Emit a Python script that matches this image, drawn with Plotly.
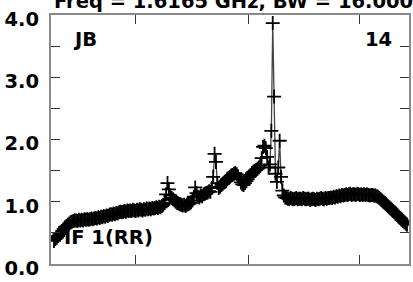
import plotly.graph_objects as go

# Spectrum amplitude per channel (256 channels)
amp_a = [0.37, 0.40, 0.42, 0.45, 0.48, 0.50, 0.53, 0.56, 0.59, 0.61,
         0.63, 0.65, 0.67, 0.68, 0.69, 0.70, 0.70, 0.69, 0.71, 0.70,
         0.71, 0.70, 0.72, 0.71, 0.72, 0.71, 0.72, 0.73, 0.72, 0.73,
         0.74, 0.73, 0.75, 0.74, 0.76, 0.75, 0.77, 0.76, 0.78, 0.77,
         0.79, 0.80, 0.79, 0.81, 0.80, 0.82, 0.81, 0.83, 0.84, 0.83,
         0.84, 0.85, 0.84, 0.86, 0.85, 0.86, 0.85, 0.87, 0.86, 0.85,
         0.87, 0.86, 0.88, 0.87, 0.86, 0.88, 0.87, 0.89, 0.88, 0.89,
         0.88, 0.90, 0.89, 0.90, 0.91, 0.90, 0.92, 0.91, 0.93, 0.95]
amp_b = [0.98, 1.12, 1.30, 1.20, 1.10, 1.06, 1.04, 1.02, 1.00, 0.98,
         0.97, 0.96, 0.95, 0.94, 0.95, 0.93, 0.95, 0.96, 0.97, 0.99,
         1.02, 1.08, 1.23, 1.14, 1.08, 1.07, 1.10, 1.09, 1.12, 1.13,
         1.14, 1.15, 1.17, 1.16, 1.22, 1.40, 1.77, 1.64, 1.30, 1.22,
         1.24, 1.27, 1.29, 1.31, 1.33, 1.36, 1.38, 1.40, 1.42, 1.43,
         1.45, 1.46, 1.44, 1.41, 1.36, 1.31, 1.28, 1.27, 1.30, 1.33,
         1.36, 1.40, 1.43, 1.46, 1.48, 1.50, 1.51, 1.53, 1.55, 1.58,
         1.70, 1.88, 1.90, 1.86, 1.72, 1.55, 1.60, 2.14, 3.87, 2.69,
         1.45, 1.32, 1.55, 1.98, 1.40, 1.18, 1.10, 1.07, 1.06]
amp_c = [1.05, 1.04, 1.06, 1.05, 1.04, 1.05, 1.06, 1.04, 1.05, 1.05,
         1.04, 1.06, 1.05, 1.04, 1.05, 1.05, 1.03, 1.04, 1.05, 1.04,
         1.03, 1.05, 1.04, 1.05, 1.06, 1.05, 1.04, 1.06, 1.05, 1.06,
         1.06, 1.07, 1.06, 1.08, 1.07, 1.09, 1.08, 1.10, 1.09, 1.11,
         1.10,
         1.11, 1.12, 1.11, 1.12, 1.13, 1.11, 1.12, 1.12, 1.11, 1.13,
         1.12, 1.11, 1.12, 1.11, 1.12, 1.11, 1.12, 1.11, 1.10, 1.11,
         1.11, 1.10,
         1.10, 1.09, 1.08, 1.06, 1.04, 1.02, 1.00, 0.98, 0.96, 0.93,
         0.91, 0.89, 0.87, 0.85, 0.83, 0.81, 0.79, 0.76, 0.74, 0.71,
         0.69, 0.67, 0.65, 0.63]
amplitude = amp_a + amp_b + amp_c
channels = list(range(len(amplitude)))

y_tickvals = [0.0, 0.5, 1.0, 1.5, 2.0, 2.5, 3.0, 3.5, 4.0]
y_ticktext = ["0.0", "", "1.0", "", "2.0", "", "3.0", "", "4.0"]
x_tickvals = [58.7, 140.4, 220.6]

title_text = "Freq = 1.6165 GHz, BW = 16.000 MHz"
label_tl = "JB"
label_tr = "14"
label_bl = "IF 1(RR)"

FONT = "DejaVu Sans"
FS = 19.5

fig = go.Figure()
fig.add_trace(go.Scatter(
    x=channels, y=amplitude, mode="lines+markers",
    line=dict(color="#444444", width=1.3),
    marker=dict(symbol="cross-thin", size=10, line=dict(color="black", width=1.8)),
    cliponaxis=True, showlegend=False, hoverinfo="skip",
))

axis_common = dict(showgrid=False, zeroline=False, showline=True, linecolor="#8a8a8a",
                   linewidth=2, mirror="ticks", ticks="inside", tickcolor="#333333",
                   tickwidth=1.2)
fig.update_xaxes(range=[-2.15, 256.43], tickvals=x_tickvals, showticklabels=False,
                 ticklen=9, **axis_common)
fig.update_yaxes(range=[0, 4], tickvals=y_tickvals, ticktext=y_ticktext, ticklen=9,
                 tickfont=dict(family=FONT, size=FS, color="black", weight="bold"),
                 ticklabelstandoff=6, ticklabelshift=4, ticklabeloverflow="allow",
                 **axis_common)

ann_font = dict(family=FONT, size=FS, color="black", weight="bold")
fig.add_annotation(text=title_text, xref="paper", yref="paper", x=0.0055, y=1.055,
                   xanchor="left", yanchor="middle", showarrow=False, font=ann_font, borderpad=0)
fig.add_annotation(text=label_tl, xref="paper", yref="paper", x=0.058, y=0.900,
                   xanchor="left", yanchor="middle", showarrow=False, font=ann_font, borderpad=0)
fig.add_annotation(text=label_tr, xref="paper", yref="paper", x=0.956, y=0.900,
                   xanchor="right", yanchor="middle", showarrow=False, font=ann_font, borderpad=0)
fig.add_annotation(text=label_bl, xref="paper", yref="paper", x=0.033, y=0.1076,
                   xanchor="left", yanchor="middle", showarrow=False, font=ann_font, borderpad=0)

fig.update_layout(width=413, height=282, margin=dict(l=51, r=2, t=15, b=16),
                  plot_bgcolor="white", paper_bgcolor="white")
fig.write_html("out.html", config={"displayModeBar": False},
               post_script="document.body.style.margin='0';")
